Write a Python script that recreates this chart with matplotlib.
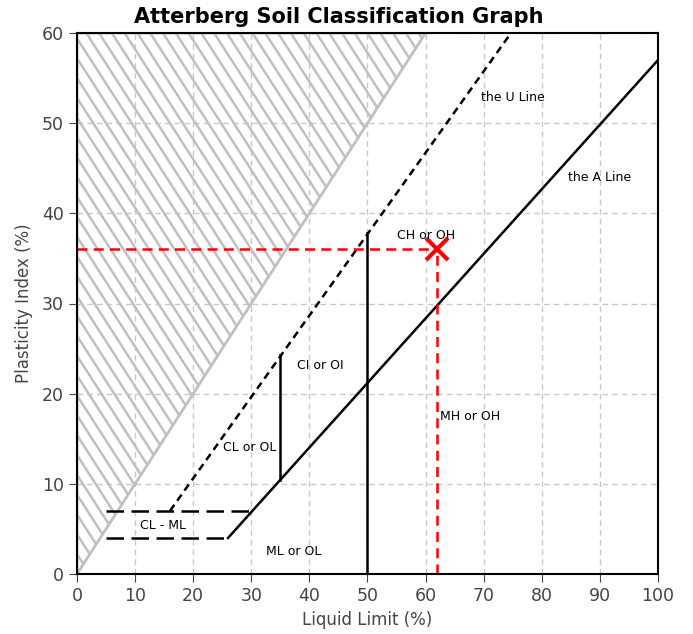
import numpy as np
import matplotlib.pyplot as plt
from matplotlib.patches import Polygon

plt.rcParams['font.family'] = ['DejaVu Sans']

# Boundary lines (Liquid Limit, Plasticity Index)
hatch_x = [0, 60, 0]
hatch_y = [0, 60, 60]

u_line_x = [16, 74.7]
u_line_y = [7, 60]

a_line_x = [26, 100]
a_line_y = [4, 57]

clml_top_x = [5, 30.2]
clml_top_y = [7, 7]
clml_bot_x = [5, 26]
clml_bot_y = [4, 4]

div35_x = [35, 35]
div35_y = [10.4, 24.3]
div50_x = [50, 50]
div50_y = [0, 37.8]

# Sample point
sample_ll = 62
sample_pi = 36

zone_labels = ["the U Line", "the A Line", "CH or OH", "CI or OI", "CL or OL",
               "MH or OH", "CL - ML", "ML or OL"]
zone_x = [75, 90, 60, 41.8, 29.8, 67.6, 14.8, 37.3]
zone_y = [52.9, 44, 37.5, 23.1, 14, 17.5, 5.4, 2.45]

fig = plt.figure(figsize=(6.93, 6.34), dpi=100)
ax = fig.add_axes([77/693, 60/634, 581/693, 541/634])

# "no soil" zone, hatched with hand-drawn diagonals clipped to the triangle
zone = Polygon(list(zip(hatch_x, hatch_y)), closed=True, facecolor='none',
               edgecolor='#c0c0c0', linewidth=2)
ax.add_patch(zone)
for c in np.arange(0, 121, 2.2):
    hl, = ax.plot([0, 120], [c, c - 120], color='#c0c0c0', linewidth=1.8)
    hl.set_clip_path(zone)

ax.plot(u_line_x, u_line_y, color='black', linestyle=(0, (3, 2)), linewidth=1.8)
ax.plot(a_line_x, a_line_y, color='black', linewidth=1.8)
ax.plot(clml_top_x, clml_top_y, color='black', linestyle=(0, (7, 3)), linewidth=1.8)
ax.plot(clml_bot_x, clml_bot_y, color='black', linestyle=(0, (7, 3)), linewidth=1.8)
ax.plot(div35_x, div35_y, color='black', linewidth=1.8)
ax.plot(div50_x, div50_y, color='black', linewidth=1.8)

ax.plot([0, sample_ll], [sample_pi, sample_pi], color='red', linestyle=(0, (4, 2.5)), linewidth=1.8)
ax.plot([sample_ll, sample_ll], [0, sample_pi], color='red', linestyle=(0, (4, 2.5)), linewidth=1.8)
ax.plot(sample_ll, sample_pi, marker='x', color='red', markersize=16, markeredgewidth=3)

for label, x, y in zip(zone_labels, zone_x, zone_y):
    ax.text(x, y, label, fontsize=9, ha='center', va='center')

ax.set_xlim(0, 100)
ax.set_ylim(0, 60)
ax.set_xticks(range(0, 101, 10))
ax.set_yticks(range(0, 61, 10))
ax.grid(True, color='#c8c8c8', linestyle=(0, (4, 3)), linewidth=1)
ax.set_axisbelow(True)
ax.tick_params(axis='both', labelsize=12.5, labelcolor='#444444', color='#444444', length=6)
for spine in ax.spines.values():
    spine.set_linewidth(1.5)

fig.text(339/693, 1 - 17/634, "Atterberg Soil Classification Graph", fontsize=15,
         fontweight='bold', ha='center', va='center')
ax.set_xlabel("Liquid Limit (%)", fontsize=12, color='#444444', labelpad=4)
ax.set_ylabel("Plasticity Index (%)", fontsize=12, color='#444444', labelpad=6)

fig.savefig("out.png", dpi=100)
